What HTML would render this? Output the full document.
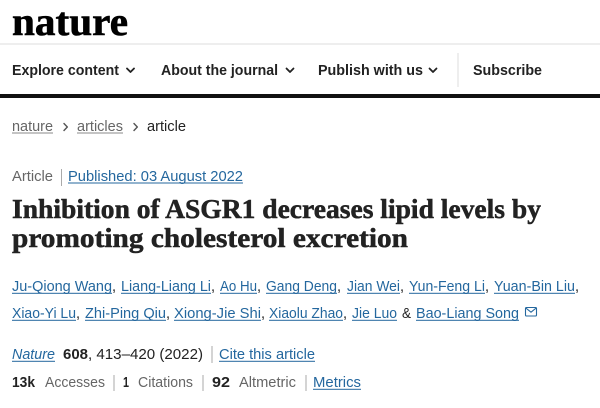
<!DOCTYPE html>
<html>
<head>
<meta charset="utf-8">
<style>
  html,body{margin:0;padding:0;background:#fff;}
  svg{display:block;}
  .s{font-family:"Liberation Sans",Arial,sans-serif;}
  .sf{font-family:"Liberation Serif","Times New Roman",serif;}
</style>
</head>
<body>
<svg width="600" height="408" viewBox="0 0 600 408" xmlns="http://www.w3.org/2000/svg">
  <rect x="0" y="0" width="600" height="408" fill="#fff"/>

  <!-- Logo -->
  <text class="sf" x="12" y="35" font-size="40" font-weight="bold" fill="#000" stroke="#000" stroke-width="0.6" textLength="116" lengthAdjust="spacingAndGlyphs">nature</text>
  <rect x="0" y="43" width="600" height="2" fill="#eeeeee"/>

  <!-- Nav -->
  <g class="s" font-size="15" font-weight="bold" fill="#222">
    <text x="12" y="75" textLength="107" lengthAdjust="spacingAndGlyphs">Explore content</text>
    <text x="161" y="75" textLength="117" lengthAdjust="spacingAndGlyphs">About the journal</text>
    <text x="318" y="75" textLength="105" lengthAdjust="spacingAndGlyphs">Publish with us</text>
    <text x="473" y="75" textLength="69" lengthAdjust="spacingAndGlyphs">Subscribe</text>
  </g>
  <g fill="none" stroke="#222" stroke-width="1.8" stroke-linecap="round" stroke-linejoin="round">
    <polyline points="127,68.5 130.5,72 134,68.5"/>
    <polyline points="286.5,68.5 290,72 293.5,68.5"/>
    <polyline points="429.5,68.5 433,72 436.5,68.5"/>
  </g>
  <rect x="457.5" y="53" width="1" height="34" fill="#dddddd"/>
  <rect x="0" y="94" width="600" height="4" fill="#111"/>

  <!-- Breadcrumb -->
  <g class="s" font-size="14.5">
    <text x="12" y="131" fill="#666" textLength="41" lengthAdjust="spacingAndGlyphs">nature</text>
    <text x="77" y="131" fill="#666" textLength="46" lengthAdjust="spacingAndGlyphs">articles</text>
    <text x="147" y="131" fill="#222" textLength="39" lengthAdjust="spacingAndGlyphs">article</text>
  </g>
  <rect x="12" y="132.5" width="41" height="1" fill="#888"/>
  <rect x="77" y="132.5" width="46" height="1" fill="#888"/>
  <g fill="none" stroke="#555" stroke-width="1.4" stroke-linecap="round" stroke-linejoin="round">
    <polyline points="64,123.5 67.3,127 64,130.5"/>
    <polyline points="134,123.5 137.3,127 134,130.5"/>
  </g>

  <!-- Article / Published -->
  <g class="s" font-size="14.6">
    <text x="12" y="181" fill="#666" textLength="41" lengthAdjust="spacingAndGlyphs">Article</text>
    <text x="68" y="181" fill="#24679e" textLength="175" lengthAdjust="spacingAndGlyphs">Published: 03 August 2022</text>
  </g>
  <rect x="61" y="169" width="1" height="17" fill="#aaa"/>
  <rect x="68" y="182.5" width="175" height="1" fill="#24679e"/>

  <!-- Title -->
  <g class="sf" font-size="27" font-weight="bold" fill="#222" stroke="#222" stroke-width="0.5">
    <text x="12" y="218" textLength="529" lengthAdjust="spacingAndGlyphs">Inhibition of ASGR1 decreases lipid levels by</text>
    <text x="12" y="247" textLength="396" lengthAdjust="spacingAndGlyphs">promoting cholesterol excretion</text>
  </g>

  <!-- Authors -->
  <g class="s" font-size="14.5" fill="#24679e">
    <text x="12" y="291" textLength="100" lengthAdjust="spacingAndGlyphs">Ju-Qiong Wang</text>
    <text x="121" y="291" textLength="90" lengthAdjust="spacingAndGlyphs">Liang-Liang Li</text>
    <text x="220" y="291" textLength="37" lengthAdjust="spacingAndGlyphs">Ao Hu</text>
    <text x="266" y="291" textLength="71" lengthAdjust="spacingAndGlyphs">Gang Deng</text>
    <text x="347" y="291" textLength="53" lengthAdjust="spacingAndGlyphs">Jian Wei</text>
    <text x="409" y="291" textLength="76" lengthAdjust="spacingAndGlyphs">Yun-Feng Li</text>
    <text x="494" y="291" textLength="81" lengthAdjust="spacingAndGlyphs">Yuan-Bin Liu</text>

    <text x="12" y="318" textLength="64" lengthAdjust="spacingAndGlyphs">Xiao-Yi Lu</text>
    <text x="85" y="318" textLength="81" lengthAdjust="spacingAndGlyphs">Zhi-Ping Qiu</text>
    <text x="174" y="318" textLength="87" lengthAdjust="spacingAndGlyphs">Xiong-Jie Shi</text>
    <text x="269" y="318" textLength="74" lengthAdjust="spacingAndGlyphs">Xiaolu Zhao</text>
    <text x="352" y="318" textLength="45" lengthAdjust="spacingAndGlyphs">Jie Luo</text>
    <text x="416" y="318" textLength="103" lengthAdjust="spacingAndGlyphs">Bao-Liang Song</text>
  </g>
  <g class="s" font-size="14.5" fill="#222">
    <text x="112" y="291">,</text>
    <text x="211" y="291">,</text>
    <text x="257" y="291">,</text>
    <text x="337" y="291">,</text>
    <text x="400" y="291">,</text>
    <text x="485" y="291">,</text>
    <text x="575" y="291">,</text>
    <text x="76" y="318">,</text>
    <text x="166" y="318">,</text>
    <text x="261" y="318">,</text>
    <text x="343" y="318">,</text>
    <text x="402" y="318" textLength="9" lengthAdjust="spacingAndGlyphs">&amp;</text>
  </g>
  <g fill="#24679e">
    <rect x="12" y="292.8" width="100" height="1"/>
    <rect x="121" y="292.8" width="90" height="1"/>
    <rect x="220" y="292.8" width="37" height="1"/>
    <rect x="266" y="292.8" width="71" height="1"/>
    <rect x="347" y="292.8" width="53" height="1"/>
    <rect x="409" y="292.8" width="76" height="1"/>
    <rect x="494" y="292.8" width="81" height="1"/>
    <rect x="12" y="319.8" width="64" height="1"/>
    <rect x="85" y="319.8" width="81" height="1"/>
    <rect x="174" y="319.8" width="87" height="1"/>
    <rect x="269" y="319.8" width="74" height="1"/>
    <rect x="352" y="319.8" width="45" height="1"/>
    <rect x="416" y="319.8" width="103" height="1"/>
  </g>
  <!-- envelope -->
  <g fill="none" stroke="#24679e" stroke-width="1.1" stroke-linejoin="round">
    <rect x="525.5" y="307.5" width="11" height="8.5" rx="1"/>
    <polyline points="525.8,308 531,312.2 536.2,308"/>
  </g>

  <!-- Citation line -->
  <g class="s" font-size="14.5">
    <text x="12" y="359" fill="#24679e" font-style="italic" textLength="43" lengthAdjust="spacingAndGlyphs">Nature</text>
    <text x="63" y="359" fill="#222" font-weight="bold" textLength="25" lengthAdjust="spacingAndGlyphs">608</text>
    <text x="88" y="359" fill="#222" textLength="115" lengthAdjust="spacingAndGlyphs">, 413–420 (2022)</text>
    <text x="219" y="359" fill="#24679e" textLength="96" lengthAdjust="spacingAndGlyphs">Cite this article</text>
  </g>
  <rect x="12" y="360.8" width="43" height="1" fill="#24679e"/>
  <rect x="219" y="360.8" width="96" height="1" fill="#24679e"/>
  <rect x="211.5" y="346" width="1" height="17" fill="#aaa"/>

  <!-- Metrics line -->
  <g class="s" font-size="14.5">
    <text x="12" y="387" fill="#222" font-weight="bold" textLength="23" lengthAdjust="spacingAndGlyphs">13k</text>
    <text x="45" y="387" fill="#666" textLength="60" lengthAdjust="spacingAndGlyphs">Accesses</text>
    <text x="123" y="387" fill="#222" font-weight="bold" textLength="6" lengthAdjust="spacingAndGlyphs">1</text>
    <text x="138" y="387" fill="#666" textLength="55" lengthAdjust="spacingAndGlyphs">Citations</text>
    <text x="212" y="387" fill="#222" font-weight="bold" textLength="18" lengthAdjust="spacingAndGlyphs">92</text>
    <text x="239" y="387" fill="#666" textLength="57" lengthAdjust="spacingAndGlyphs">Altmetric</text>
    <text x="313" y="387" fill="#24679e" textLength="48" lengthAdjust="spacingAndGlyphs">Metrics</text>
  </g>
  <rect x="313" y="388.8" width="48" height="1" fill="#24679e"/>
  <g fill="#aaa">
    <rect x="113.5" y="375" width="1" height="16"/>
    <rect x="202.5" y="375" width="1" height="16"/>
    <rect x="305.5" y="375" width="1" height="16"/>
  </g>
</svg>
</body>
</html>
